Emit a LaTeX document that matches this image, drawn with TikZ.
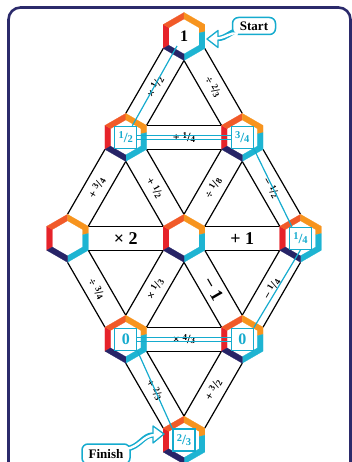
\documentclass[tikz,border=0pt]{standalone}
\usepackage{fontspec}
\setmainfont{Liberation Serif}
\usetikzlibrary{calc}
\definecolor{hred}{HTML}{E6232A}
\definecolor{hrorange}{HTML}{F15A29}
\definecolor{horange}{HTML}{F7941E}
\definecolor{hcyan}{HTML}{1EB4D2}
\definecolor{hnavy}{HTML}{272467}
\definecolor{pathc}{HTML}{15ABCE}
\definecolor{framec}{HTML}{2B2A6B}
\newcommand\fr[2]{{\fontsize{9}{9}\selectfont\raisebox{3pt}{#1}}{\fontsize{12.5}{12.5}\selectfont/}{\fontsize{9}{9}\selectfont\raisebox{-0.6pt}{#2}}}
\newcommand\bfr[2]{{\fontsize{10.5}{10.5}\selectfont\raisebox{3.4pt}{#1}}{\fontsize{14}{14}\selectfont/}{\fontsize{10.5}{10.5}\selectfont\raisebox{-0.6pt}{#2}}}
\newcommand\hexc[3]{%
 \begin{scope}[shift={(#2,#3)}]
  \coordinate (#1) at (0,0);
  \coordinate (#1-t) at (0,-24);
  \coordinate (#1-ur) at (20.78,-12);
  \coordinate (#1-lr) at (20.78,12);
  \coordinate (#1-b) at (0,24);
  \coordinate (#1-ll) at (-20.78,12);
  \coordinate (#1-ul) at (-20.78,-12);
 \end{scope}}
\newcommand\hexdraw[1]{%
 \begin{scope}[shift={(#1)}, line width=0.2pt]
  \fill[white] (0,-17.5) -- (15.16,-8.75) -- (15.16,8.75) -- (0,17.5) -- (-15.16,8.75) -- (-15.16,-8.75) -- cycle;
  \filldraw[hred] (-20.78,12) -- (-20.78,-12) -- (-15.16,-8.75) -- (-15.16,8.75) -- cycle;
  \filldraw[hrorange] (-20.78,-12) -- (0,-24) -- (0,-17.5) -- (-15.16,-8.75) -- cycle;
  \filldraw[horange] (0,-24) -- (20.78,-12) -- (20.78,-4.8) -- (15.16,-3.5) -- (15.16,-8.75) -- (0,-17.5) -- cycle;
  \filldraw[hcyan] (20.78,-4.8) -- (20.78,12) -- (0,24) -- (0,17.5) -- (15.16,8.75) -- (15.16,-3.5) -- cycle;
  \filldraw[hnavy] (0,24) -- (-20.78,12) -- (-15.16,8.75) -- (0,17.5) -- cycle;
 \end{scope}}
\newcommand\bandH[2]{\draw[bandline] (#1-ur) -- (#2-ul); \draw[bandline] (#1-lr) -- (#2-ll);}
\newcommand\bandDL[2]{\draw[bandline] (#1-ll) -- (#2-t); \draw[bandline] (#1-b) -- (#2-ur);}
\newcommand\bandDR[2]{\draw[bandline] (#1-b) -- (#2-ul); \draw[bandline] (#1-lr) -- (#2-t);}
\tikzset{
 bandline/.style={black, line width=1.2pt},
 lab/.style={font=\bfseries\fontsize{12}{12}\selectfont, inner sep=0pt},
 biglab/.style={font=\bfseries\fontsize{18}{18}\selectfont, inner sep=0pt},
 box/.style={draw=pathc, line width=1.3pt, fill=white, minimum size=22pt, inner sep=0pt, text=pathc, font=\bfseries},
 zerobox/.style={box, font=\bfseries\fontsize{16}{16}\selectfont},
 pathline/.style={pathc, line width=1.2pt},
 callout/.style={draw=pathc, line width=1.5pt, rounded corners=6pt, fill=white, inner sep=2pt, font=\bfseries\fontsize{13}{13}\selectfont},
}
\begin{document}
\begin{tikzpicture}[x=1pt,y=-1pt]
\useasboundingbox (0,0) rectangle (352,462);
\clip (0,0) rectangle (352,462);
\draw[framec, line width=2.6pt, rounded corners=12pt] (8.5,7.5) rectangle (350.5,490);
% hexagon coordinates
\hexc{T}{184}{36.5}
\hexc{L2}{125.75}{137.4}
\hexc{R2}{242.25}{137.4}
\hexc{L3}{67.5}{238.3}
\hexc{M3}{184}{238.3}
\hexc{R3}{300.5}{238.3}
\hexc{L4}{125.75}{339.2}
\hexc{R4}{242.25}{339.2}
\hexc{B}{184}{440.1}
% bands
\bandDL{T}{L2} \bandDR{T}{R2} \bandH{L2}{R2}
\bandDL{L2}{L3} \bandDR{L2}{M3} \bandDL{R2}{M3} \bandDR{R2}{R3}
\bandH{L3}{M3} \bandH{M3}{R3}
\bandDR{L3}{L4} \bandDL{M3}{L4} \bandDR{M3}{R4} \bandDL{R3}{R4}
\bandH{L4}{R4} \bandDR{L4}{B} \bandDL{R4}{B}
% labels
\node[lab, rotate=60] (l1) at ($(T)!0.5!(L2)$) {× \fr12};
\node[lab, rotate=-60] (l2) at ($(T)!0.5!(R2)$) {÷ \fr23};
\node[lab] (l3) at ($(L2)!0.5!(R2)$) {+ \fr14};
\node[lab, rotate=60] (l4) at ($(L2)!0.5!(L3)$) {+ \fr34};
\node[lab, rotate=-60] (l5) at ($(L2)!0.5!(M3)$) {+ \fr12};
\node[lab, rotate=60] (l6) at ($(R2)!0.5!(M3)$) {÷ \fr18};
\node[lab, rotate=-60] (l7) at ($(R2)!0.5!(R3)$) {− \fr12};
\node[biglab] (l8) at ($(L3)!0.5!(M3)$) {× 2};
\node[biglab] (l9) at ($(M3)!0.5!(R3)$) {+ 1};
\node[lab, rotate=-60] (l10) at ($(L3)!0.5!(L4)$) {÷ \fr34};
\node[lab, rotate=60] (l11) at ($(M3)!0.5!(L4)$) {× \fr13};
\node[biglab, rotate=-60] (l12) at ($(M3)!0.5!(R4)$) {− 1};
\node[lab, rotate=60] (l13) at ($(R3)!0.5!(R4)$) {− \fr14};
\node[lab] (l14) at ($(L4)!0.5!(R4)$) {× \fr43};
\node[lab, rotate=-60] (l15) at ($(L4)!0.5!(B)$) {+ \fr23};
\node[lab, rotate=60] (l16) at ($(R4)!0.5!(B)$) {+ \fr32};
% hexagons
\hexdraw{T} \hexdraw{L2} \hexdraw{R2} \hexdraw{L3} \hexdraw{M3} \hexdraw{R3} \hexdraw{L4} \hexdraw{R4} \hexdraw{B}
\node[biglab, font=\bfseries\fontsize{16}{16}\selectfont] (one) at (T) {1};
% answer boxes
\node[box] (bL2) at (L2) {\bfr12};
\node[box] (bR2) at (R2) {\bfr34};
\node[box] (bR3) at (R3) {\bfr14};
\node[zerobox] (bL4) at (L4) {0};
\node[zerobox] (bR4) at (R4) {0};
\node[box] (bB) at (B) {\bfr23};
% path
\coordinate (pT) at (177,46);
\draw[pathline] (pT) -- (bL2);
\draw[pathline] ([yshift=2pt]bL2.east) -- ([yshift=2pt]bR2.west);
\draw[pathline] ([yshift=-2pt]bL2.east) -- ([yshift=-2pt]bR2.west);
\draw[pathline] (bR2.south east) -- ([xshift=3pt]bR3.north west);
\draw[pathline] (bR3.south) -- (bR4.north east);
\draw[pathline] ([yshift=2pt]bL4.east) -- ([yshift=2pt]bR4.west);
\draw[pathline] ([yshift=-2pt]bL4.east) -- ([yshift=-2pt]bR4.west);
\draw[pathline] (bL4.south east) -- (bB.north west);
% start callout
\coordinate (sa1) at (240,30);
\coordinate (sa2) at (217,38.5);
\coordinate (sa3) at (215,38.5);
\coordinate (stip) at (207,39);
\draw[pathc, line width=5.4pt] (sa1) .. controls (230,31) and (227,38.5) .. (sa2);
\node[callout, minimum width=43pt, minimum height=17pt] (start) at (254,26) {Start};
\filldraw[draw=pathc, fill=white, line width=1.3pt, line join=round] (stip) -- (218,30.5) -- (218,47.5) -- cycle;
\draw[white, line width=2.4pt] (start.south west) ++(6,-1) .. controls (230,31) and (227,38.5) .. (sa3);
% finish callout
\coordinate (fa1) at (126,449);
\coordinate (fa2) at (153,435);
\coordinate (fa3) at (155,435);
\coordinate (ftip) at (164,434);
\draw[pathc, line width=5.4pt] (fa1) .. controls (140,447) and (143,435) .. (fa2);
\node[callout, minimum width=48pt, minimum height=20pt] (finish) at (106,454) {Finish};
\filldraw[draw=pathc, fill=white, line width=1.3pt, line join=round] (ftip) -- (153,426) -- (153,443) -- cycle;
\draw[white, line width=2.4pt] (fa1) .. controls (140,447) and (143,435) .. (fa3);
\end{tikzpicture}
\end{document}
